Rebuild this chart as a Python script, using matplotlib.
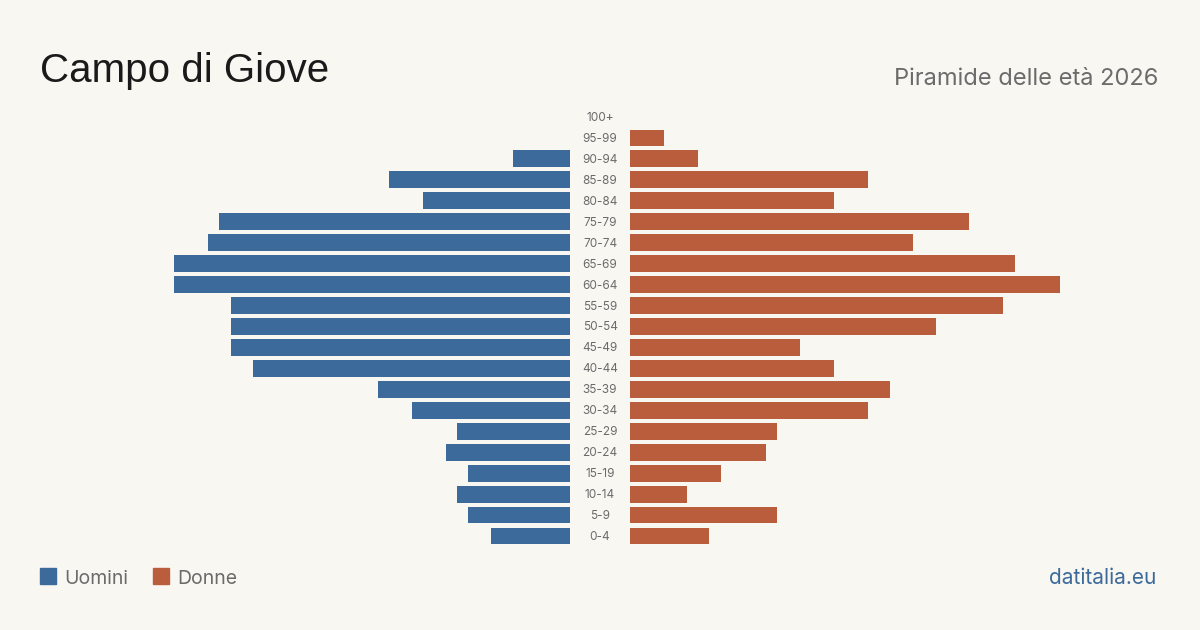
import matplotlib.pyplot as plt
from matplotlib.patches import Rectangle

ages = ['0-4', '5-9', '10-14', '15-19', '20-24', '25-29', '30-34', '35-39',
        '40-44', '45-49', '50-54', '55-59', '60-64', '65-69', '70-74', '75-79',
        '80-84', '85-89', '90-94', '95-99', '100+']
men = [7, 9, 10, 9, 11, 10, 14, 17, 28, 30, 30, 30, 35, 35, 32, 31, 13, 16, 5, 0, 0]
women = [7, 13, 5, 8, 12, 13, 21, 23, 18, 15, 27, 33, 38, 34, 25, 30, 18, 21, 6, 3, 0]

BG = '#f9f7f2'
BLUE = '#3c6a9b'
RED = '#b95d3d'
GREY = '#6b6b6b'

fig = plt.figure(figsize=(12, 6.3), dpi=100, facecolor=BG)
plt.rcParams['font.family'] = ['Inter', 'DejaVu Sans']

xmax = max(max(men), max(women))
bottom = 1 - 546.5 / 630
height = (546.5 - 106.5) / 630

ax_l = fig.add_axes([140 / 1200, bottom, 430 / 1200, height])
ax_r = fig.add_axes([630 / 1200, bottom, 430 / 1200, height])

y = range(len(ages))
ax_l.barh(y, men, height=0.8, color=BLUE)
ax_r.barh(y, women, height=0.8, color=RED)
ax_l.set_xlim(xmax, 0)
ax_r.set_xlim(0, xmax)

for ax in (ax_l, ax_r):
    ax.set_ylim(-0.5, len(ages) - 0.5)
    ax.axis('off')
    ax.set_facecolor(BG)

# age labels in the gap between the two halves
for i, a in enumerate(ages):
    yy = bottom + height * (i + 0.5) / len(ages) - 1 / 630
    fig.text(0.5, yy, a, ha='center', va='center', fontsize=8.5, color=GREY)

fig.text(40 / 1200, 1 - 82 / 630, 'Campo di Giove', fontsize=29,
         color='#1a1a1a', family=['Liberation Sans', 'DejaVu Sans'])
fig.text(1158 / 1200, 1 - 85 / 630, 'Piramide delle età 2026', ha='right',
         fontsize=17, color=GREY)

fig.patches.append(Rectangle((40 / 1200, 1 - 584 / 630), 16 / 1200, 16 / 630,
                             transform=fig.transFigure, color=BLUE))
fig.text(64 / 1200, 1 - 584 / 630, 'Uomini', fontsize=14, color=GREY)
fig.patches.append(Rectangle((153 / 1200, 1 - 584 / 630), 16 / 1200, 16 / 630,
                             transform=fig.transFigure, color=RED))
fig.text(177 / 1200, 1 - 584 / 630, 'Donne', fontsize=14, color=GREY)
fig.text(1156 / 1200, 1 - 584 / 630, 'datitalia.eu', ha='right', fontsize=15,
         color=BLUE)

fig.savefig('out.png', dpi=100, facecolor=BG)
